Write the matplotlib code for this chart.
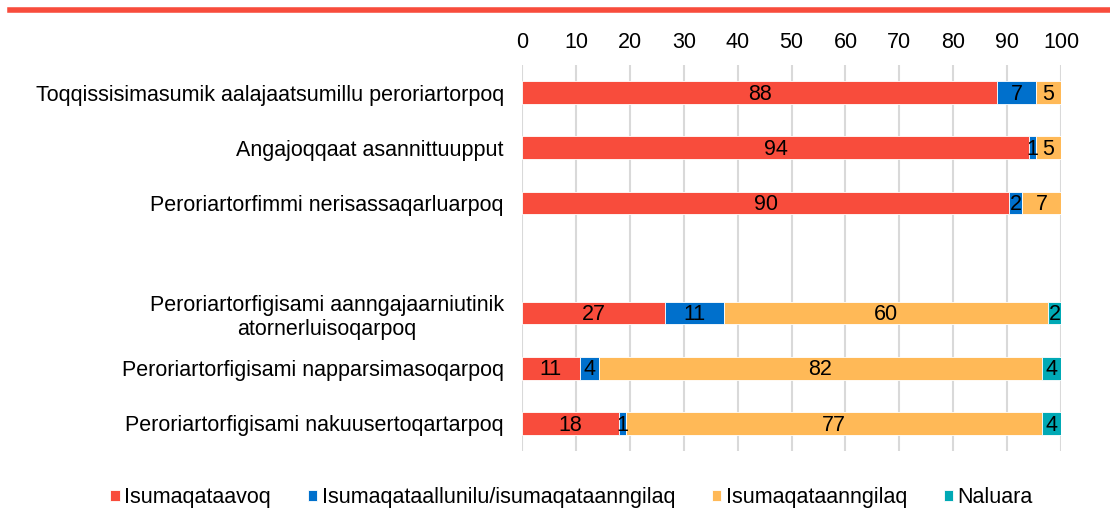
import matplotlib
matplotlib.use('Agg')
import matplotlib.pyplot as plt
from matplotlib.lines import Line2D
import numpy as np

plt.rcParams['font.family'] = ['Liberation Sans', 'DejaVu Sans']

# categories (top to bottom), with an empty slot between the two groups
categories = [
    "Toqqissisimasumik aalajaatsumillu peroriartorpoq",
    "Angajoqqaat asannittuupput",
    "Peroriartorfimmi nerisassaqarluarpoq",
    "Peroriartorfigisami aanngajaarniutinik\natornerluisoqarpoq",
    "Peroriartorfigisami napparsimasoqarpoq",
    "Peroriartorfigisami nakuusertoqartarpoq",
]
slots = [0, 1, 2, 4, 5, 6]

series_names = ["Isumaqataavoq", "Isumaqataallunilu/isumaqataanngilaq",
                "Isumaqataanngilaq", "Naluara"]
agree = [88.2, 94.1, 90.4, 26.6, 10.7, 17.9]
neutral = [7.1, 1.2, 2.4, 10.8, 3.6, 1.3]
disagree = [4.7, 4.7, 7.2, 60.2, 82.1, 77.2]
dont_know = [0, 0, 0, 2.4, 3.6, 3.6]
colors = ["#F84C3C", "#0070CC", "#FFB957", "#00A9B5"]

fs = 15.5

fig = plt.figure(figsize=(11.1, 5.25), dpi=100)
ax = fig.add_axes([0.4703, 0.141, 0.4856, 0.735])

left = np.zeros(len(slots))
for name, vals, col in zip(series_names, [agree, neutral, disagree, dont_know], colors):
    vals = np.array(vals)
    bars = ax.barh(slots, vals, left=left, height=0.41, color=col,
                   edgecolor='white', linewidth=0.6, label=name, zorder=3)
    for b, v in zip(bars, vals):
        if v > 0:
            ax.text(b.get_x() + b.get_width() / 2, b.get_y() + b.get_height() / 2 + 0.03,
                    '%.0f' % v, ha='center', va='center', fontsize=fs,
                    color='black', zorder=4)
    left += vals

ax.set_xlim(0, 100)
ax.set_ylim(6.5, -0.5)
ax.set_xticks(range(0, 101, 10))
ax.xaxis.tick_top()
ax.tick_params(axis='x', length=0, pad=9, labelsize=fs)
ax.set_yticks(slots)
ax.set_yticklabels(categories, fontsize=fs, multialignment='center')
ax.tick_params(axis='y', length=0, pad=13)
ax.grid(axis='x', color='#D9D9D9', linewidth=1.5, zorder=0)
for s in ax.spines.values():
    s.set_visible(False)

# red rule across the top
fig.add_artist(Line2D([0.009, 1.0], [0.981, 0.981], color='#F84C3C',
                      linewidth=4, transform=fig.transFigure))

fig.legend(loc='lower center', bbox_to_anchor=(0.515, -0.005), ncol=4, frameon=False,
           fontsize=fs, handlelength=0.45, handleheight=0.45, handletextpad=0.2,
           columnspacing=1.7)

fig.savefig('out.png', dpi=100)
